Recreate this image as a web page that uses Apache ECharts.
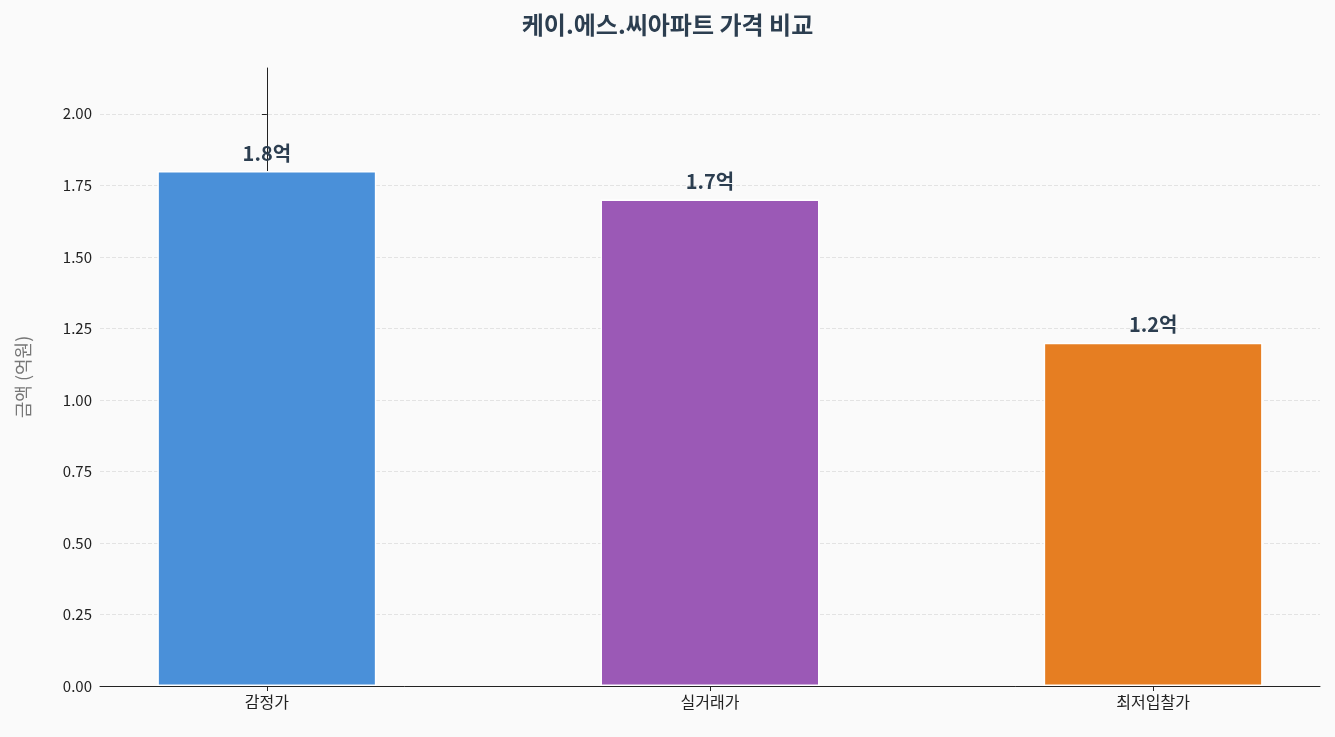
<!DOCTYPE html><html><head><meta charset="utf-8"><script src="https://cdn.jsdelivr.net/npm/echarts@6/dist/echarts.min.js"></script>
<style>html,body{margin:0;background:#fafafa}#c{width:1335px;height:737px}</style></head><body><div id="c"></div><script>
const categories=['감정가','실거래가','최저입찰가'];
const values=[1.8,1.7,1.2];
const labels=['1.8억','1.7억','1.2억'];
const colors=['#4a90d9','#9b59b6','#e67e22'];
const F='"Noto Sans CJK KR","Noto Sans",sans-serif';
const c=echarts.init(document.getElementById('c'));
c.setOption({backgroundColor:'#fafafa',
title:{text:'케이.에스.씨아파트 가격 비교',left:'center',top:8,textStyle:{fontFamily:F,fontSize:24,fontWeight:'bold',color:'#2c3e50'}},
grid:{left:100,right:15,top:68,bottom:51},
xAxis:{type:'value',min:-0.3765,max:2.3765,splitLine:{show:false},
axisLine:{show:true,onZero:false,lineStyle:{color:'#222'}},
axisTick:{show:true,customValues:[0,1,2],length:5,lineStyle:{color:'#222'}},
axisLabel:{customValues:[0,1,2],formatter:v=>categories[Math.round(v)],fontFamily:F,fontSize:16,color:'#222',margin:8}},
yAxis:{type:'value',min:0,max:2.16,interval:0.25,name:'금액 (억원)',nameLocation:'middle',nameGap:68,nameTextStyle:{fontFamily:F,fontSize:18,color:'#777'},
axisLine:{show:true,lineStyle:{color:'#222'}},axisTick:{show:true,length:5,lineStyle:{color:'#222'}},
axisLabel:{fontFamily:F,fontSize:15,color:'#222',formatter:v=>v.toFixed(2),showMaxLabel:false},
splitLine:{showMaxLine:false,lineStyle:{type:'dashed',color:'#e3e3e3'}}},
series:[{type:'bar',barWidth:219,
data:values.map((v,i)=>({value:[i,v],itemStyle:{color:colors[i],borderColor:'#fff',borderWidth:1.5}})),
label:{show:true,position:'top',distance:8,formatter:p=>labels[p.dataIndex],fontFamily:F,fontSize:20,fontWeight:'bold',color:'#2c3e50'}}]});
</script></body></html>
